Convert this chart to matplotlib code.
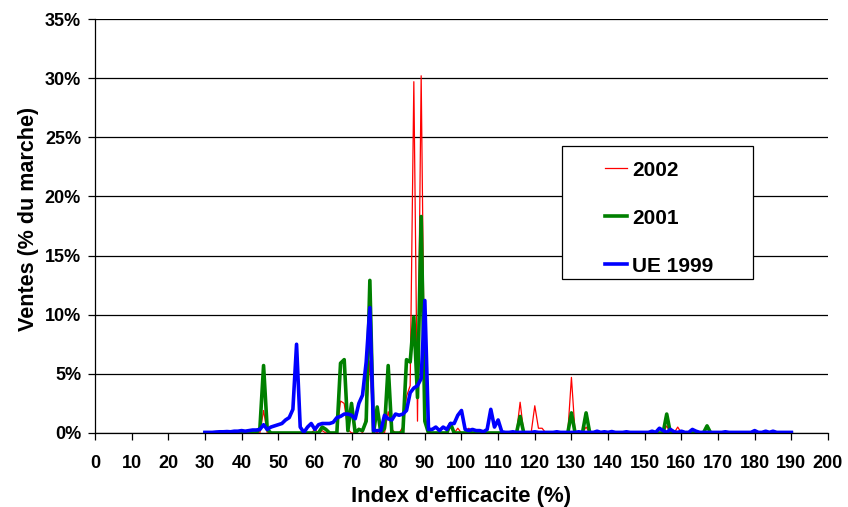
import numpy as np
import matplotlib.pyplot as plt
from matplotlib.patches import Rectangle

plt.rcParams['font.family'] = ['Liberation Sans', 'DejaVu Sans']
plt.rcParams['font.weight'] = 'bold'

# index d'efficacite (x) : 30 -> 190
x = np.arange(30, 191)

# ventes (% du marche); 0 ailleurs
pts_2002 = {46: 1.9, 60: 0.3, 62: 0.2, 67: 2.7, 68: 2.5, 69: 0.3, 72: 0.4,
            74: 1.5, 75: 6.1, 76: 0.2, 78: 0.3, 80: 1.8, 81: 0.3, 84: 0.5,
            85: 3.1, 86: 4.0, 87: 29.7, 88: 1.0, 89: 30.2, 90: 1.5, 91: 0.2,
            97: 0.6, 99: 0.4, 102: 0.4, 116: 2.6, 120: 2.3, 121: 0.4, 122: 0.4,
            130: 4.7, 134: 0.5, 156: 0.6, 159: 0.5}

pts_2001 = {45: 0.4, 46: 5.7, 47: 0.3, 62: 0.5, 63: 0.3, 67: 5.9, 68: 6.2,
            69: 0.2, 70: 2.5, 72: 0.3, 73: 0.2, 74: 1.0, 75: 12.9, 77: 2.2,
            79: 0.4, 80: 5.7, 85: 6.2, 86: 6.0, 87: 9.8, 88: 3.0, 89: 18.3,
            90: 1.0, 97: 0.8, 116: 1.4, 130: 1.7, 134: 1.7, 156: 1.6, 167: 0.6}

pts_ue1999 = {30: 0.05, 31: 0.05, 32: 0.05, 33: 0.08, 34: 0.1, 35: 0.1,
              36: 0.12, 37: 0.1, 38: 0.15, 39: 0.15, 40: 0.2, 41: 0.15,
              42: 0.2, 43: 0.25, 44: 0.25, 45: 0.3, 46: 0.7, 47: 0.3, 48: 0.5,
              49: 0.6, 50: 0.7, 51: 0.8, 52: 1.1, 53: 1.3, 54: 2.0, 55: 7.5,
              56: 0.5, 57: 0.05, 58: 0.5, 59: 0.8, 60: 0.3, 61: 0.7, 62: 0.8,
              63: 0.8, 64: 0.8, 65: 0.9, 66: 1.3, 67: 1.4, 68: 1.6, 69: 1.6,
              70: 1.5, 71: 1.2, 72: 2.5, 73: 3.2, 74: 6.0, 75: 10.6, 76: 0.2,
              77: 0.2, 78: 0.2, 79: 1.5, 80: 1.2, 81: 1.1, 82: 1.6, 83: 1.5,
              84: 1.6, 85: 1.9, 86: 3.4, 87: 3.8, 88: 4.0, 89: 4.6, 90: 11.2,
              91: 0.3, 92: 0.3, 93: 0.5, 94: 0.2, 95: 0.5, 96: 0.3, 97: 0.8,
              98: 0.8, 99: 1.5, 100: 1.9, 101: 0.3, 102: 0.2, 103: 0.3,
              104: 0.2, 105: 0.2, 106: 0.1, 107: 0.3, 108: 2.0, 109: 0.5,
              110: 1.1, 111: 0.1, 114: 0.1, 120: 0.1, 126: 0.1, 132: 0.1,
              137: 0.15, 139: 0.1, 141: 0.12, 145: 0.1, 152: 0.15, 154: 0.4,
              155: 0.2, 157: 0.3, 158: 0.1, 160: 0.15, 163: 0.3, 164: 0.15,
              172: 0.1, 180: 0.2, 183: 0.15, 185: 0.15}

y2002 = np.array([pts_2002.get(v, 0.0) for v in x])
y2001 = np.array([pts_2001.get(v, 0.0) for v in x])
yue = np.array([pts_ue1999.get(v, 0.05) for v in x])

fig = plt.figure(figsize=(8.48, 5.07), dpi=100)
ax = fig.add_axes([0.112, 0.146, 0.8644, 0.8165])

ax.plot(x, y2002, color='#ff0000', lw=0.9, label='2002')
ax.plot(x, y2001, color='#008000', lw=2.6, label='2001')
ax.plot(x, yue, color='#0000ff', lw=2.6, label='UE 1999')

ax.set_xlim(0, 200)
ax.set_ylim(0, 35)
ax.set_xticks(np.arange(0, 201, 10))
ax.set_yticks(np.arange(0, 36, 5))
ax.set_yticklabels([f'{v}%' for v in range(0, 36, 5)])
ax.yaxis.grid(True, color='black', lw=0.9)
ax.set_axisbelow(True)
for s in ['top', 'right']:
    ax.spines[s].set_visible(False)
ax.spines['left'].set_linewidth(0.9)
ax.spines['bottom'].set_linewidth(0.9)
ax.tick_params(axis='both', direction='out', length=5, width=0.9, labelsize=13)
ax.tick_params(axis='y', pad=5)
ax.tick_params(axis='x', pad=11)

ax.set_xlabel("Index d'efficacite (%)", fontsize=16, fontweight='bold', labelpad=10)
ax.set_ylabel('Ventes (% du marche)', fontsize=15.5, fontweight='bold')
ax.yaxis.set_label_coords(-0.076, 0.517)

# cadre de la legende
ax.add_patch(Rectangle((0.6371, 0.372), 0.2606, 0.3212, transform=ax.transAxes,
                       facecolor='white', edgecolor='black', lw=0.9, zorder=5))
leg = ax.legend(loc='center left', bbox_to_anchor=(0.6958, 0.519), fontsize=15,
                frameon=False, handlelength=1.06, labelspacing=1.39, borderpad=0,
                borderaxespad=0, handletextpad=0.25)
leg.set_zorder(6)
for t in leg.get_texts():
    t.set_fontweight('bold')

fig.savefig('out.png', dpi=100)
